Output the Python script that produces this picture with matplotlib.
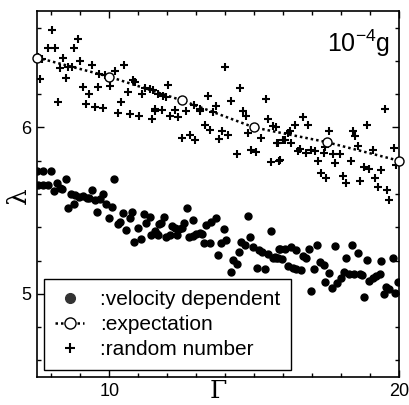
import matplotlib
matplotlib.use("Agg")
import matplotlib.pyplot as plt
from matplotlib.ticker import FixedLocator, MultipleLocator
from matplotlib.lines import Line2D

plt.rcParams['font.family'] = ['Liberation Sans', 'DejaVu Sans']
plt.rcParams['mathtext.fontset'] = 'custom'
plt.rcParams['mathtext.rm'] = 'Liberation Sans'
plt.rcParams['mathtext.it'] = 'Liberation Sans'

# expectation curve
gamma_exp = [7.5, 10.0, 12.5, 15.0, 17.5, 20.0]
lam_exp = [6.42, 6.305, 6.163, 6.0, 5.912, 5.80]

# random-number crosses
gamma_rand = [8.01, 8.9, 7.87, 8.12, 8.79, 7.54, 7.66, 8.4, 9.0, 8.29, 8.58, 8.72, 9.41, 8.49, 7.6,
              9.64, 9.84, 9.98, 10.19, 10.51, 9.1, 9.59, 10.02, 9.29, 10.8, 10.88, 10.63, 11.11,
              11.22, 11.4, 11.51, 8.21, 9.19, 9.5, 9.79, 10.4, 10.3, 10.71, 11.02, 11.48, 11.59, 11.68,
              12.01, 11.86, 11.97, 13.98, 14.5, 13.41, 15.41, 14.19, 11.57, 11.8, 12.28, 12.09, 12.37,
              12.63, 12.92, 13.12, 13.12, 13.67, 13.58, 14.61, 14.7, 15.48, 15.65, 13.29, 13.47, 13.89,
              14.08, 12.49, 12.78, 12.97, 13.78, 14.79, 15.25, 15.8, 14.39, 14.9, 15.05, 15.57, 15.84,
              19.5, 16.68, 16.86, 16.4, 18.9, 15.77, 16.17, 16.22, 17.6, 18.41, 18.47, 15.82, 15.99,
              16.05, 16.28, 16.57, 16.51, 16.8, 16.97, 17.09, 17.43, 17.41, 17.72, 17.95, 18.6, 19.1,
              19.84, 15.88, 17.2, 17.78, 18.33, 18.79, 18.98, 19.39, 19.9, 17.29, 17.49, 18.06, 18.18,
              18.67, 19.16, 19.29, 19.59, 19.67]
lam_rand = [6.585, 6.531, 6.475, 6.48, 6.479, 6.425, 6.41, 6.415, 6.40, 6.355, 6.365, 6.365, 6.375, 6.30, 6.29,
            6.32, 6.315, 6.305, 6.34, 6.375, 6.245, 6.245, 6.25, 6.20, 6.285, 6.275, 6.215, 6.20,
            6.24, 6.23, 6.225, 6.15, 6.138, 6.122, 6.114, 6.15, 6.086, 6.082, 6.066, 6.05, 6.10, 6.20,
            6.255, 6.19, 6.186, 6.361, 6.235, 6.19, 6.17, 6.162, 6.11, 6.106, 6.106, 6.07, 6.062,
            6.096, 6.136, 6.11, 6.096, 6.13, 6.09, 6.096, 6.066, 6.05, 6.01, 6.016, 5.982, 5.976,
            5.956, 5.936, 5.956, 5.926, 5.93, 5.966, 5.936, 5.906, 5.843, 5.866, 5.85, 5.79, 5.80,
            6.11, 6.062, 6.016, 6.016, 6.016, 6.0, 5.966, 5.976, 5.98, 5.98, 5.95, 5.906, 5.922,
            5.926, 5.906, 5.87, 5.856, 5.846, 5.866, 5.856, 5.882, 5.846, 5.843, 5.843, 5.89, 5.862,
            5.876, 5.807, 5.80, 5.786, 5.80, 5.762, 5.75, 5.747, 5.777, 5.726, 5.696, 5.706, 5.666,
            5.677, 5.696, 5.642, 5.623, 5.563]

# velocity-dependent dots
gamma_vel = [7.49, 7.72, 7.98, 7.52, 7.72, 7.87, 8.18, 8.1, 8.29, 8.37, 8.49, 8.67, 8.81, 8.95, 9.1,
             9.21, 9.29, 8.58, 8.79, 9.39, 9.5, 9.67, 9.79, 9.57, 10.17, 9.87, 10.08, 9.98, 10.48,
             10.79, 10.28, 10.36, 10.71, 10.56, 10.99, 10.86, 11.09, 11.2, 11.4, 11.28, 11.45, 11.57,
             11.66, 11.71, 11.68, 11.78, 11.89, 11.97, 12.09, 12.17, 12.28, 12.4, 12.49, 12.35, 12.57,
             12.68, 12.74, 12.89, 13.0, 13.12, 13.2, 12.89, 13.27, 13.47, 13.35, 13.52, 13.67, 13.75,
             13.87, 14.04, 13.96, 14.19, 14.27, 14.39, 14.47, 14.53, 14.67, 14.77, 14.87, 14.96,
             15.16, 15.27, 15.48, 15.65, 15.77, 15.08, 15.36, 15.57, 15.84, 15.71, 15.82, 15.96,
             15.88, 16.05, 16.26, 16.46, 16.17, 16.34, 16.46, 16.6, 16.68, 16.8, 16.88, 17.18, 16.97,
             17.06, 17.26, 17.41, 17.57, 17.45, 17.68, 17.87, 17.98, 17.78, 18.1, 18.26, 18.44,
             18.64, 18.72, 18.18, 18.37, 18.6, 18.79, 18.9, 18.98, 19.1, 19.21, 19.33, 19.39, 19.48,
             19.56, 19.67, 19.79, 19.87, 19.98]
lam_vel = [5.737, 5.741, 5.737, 5.657, 5.657, 5.653, 5.666, 5.621, 5.636, 5.633, 5.693, 5.601, 5.593, 5.581, 5.587,
           5.573, 5.577, 5.513, 5.537, 5.627, 5.561, 5.567, 5.601, 5.493, 5.693, 5.541, 5.521, 5.453, 5.487,
           5.493, 5.417, 5.433, 5.453, 5.381, 5.393, 5.313, 5.327, 5.477, 5.461, 5.427, 5.353, 5.377,
           5.357, 5.421, 5.353, 5.427, 5.461, 5.341, 5.353, 5.407, 5.393, 5.387, 5.397, 5.353, 5.427,
           5.517, 5.341, 5.347, 5.357, 5.367, 5.361, 5.441, 5.307, 5.305, 5.413, 5.433, 5.457, 5.234,
           5.307, 5.321, 5.387, 5.133, 5.201, 5.181, 5.253, 5.313, 5.293, 5.467, 5.341, 5.281,
           5.261, 5.253, 5.237, 5.217, 5.213, 5.157, 5.147, 5.377, 5.267, 5.222, 5.213, 5.208,
           5.268, 5.268, 5.281, 5.261, 5.168, 5.154, 5.148, 5.142, 5.228, 5.214, 5.268, 5.293, 5.014,
           5.148, 5.193, 5.174, 5.128, 5.074, 5.034, 5.068, 5.098, 5.287, 5.133, 5.118, 5.118,
           5.122, 5.114, 5.217, 5.293, 5.247, 4.978, 5.201, 5.078, 5.094, 5.108, 5.118, 5.198, 4.998,
           5.042, 5.028, 5.217, 5.002, 5.074]

x_ticks = [10, 20]
y_ticks = [5, 6]

fig = plt.figure(figsize=(4.09, 4.05), dpi=100)
ax = fig.add_axes([37/409, 1 - 377/405, (399 - 37)/409, (377 - 11)/405])

ax.plot(gamma_vel, lam_vel, linestyle='none', marker='o', ms=5, color='black', mec='black')
ax.plot(gamma_rand, lam_rand, linestyle='none', marker='+', ms=6, mew=1.5, color='black')
ax.plot(gamma_exp, lam_exp, linestyle=(0, (1, 1.2)), lw=1.8, color='black',
        marker='o', ms=6.5, mfc='white', mec='black', mew=1.0, clip_on=False, zorder=5)

ax.set_xlim(7.5, 20)
ax.set_ylim(4.5, 6.7)
ax.xaxis.set_major_locator(FixedLocator(x_ticks))
ax.yaxis.set_major_locator(FixedLocator(y_ticks))
ax.xaxis.set_minor_locator(MultipleLocator(1))
ax.yaxis.set_minor_locator(MultipleLocator(0.2))
ax.tick_params(which='both', direction='in', top=True, right=True, labelsize=13, width=1)
ax.tick_params(which='major', length=5, pad=4)
ax.tick_params(which='minor', length=3)
for s in ax.spines.values():
    s.set_linewidth(1.2)

fig.text(218/409, 1 - 392/405, 'Γ', family=['DejaVu Serif'], fontsize=18,
         ha='center', va='center')
fig.text(18/409, 1 - 196/405, 'λ', family=['DejaVu Serif'], fontsize=19,
         ha='center', va='center', rotation=90)

ax.text(0.975, 0.955, r'10$^{-4}$g', transform=ax.transAxes, ha='right', va='top', fontsize=18)

handles = [
    Line2D([], [], linestyle='none', marker='o', ms=7, color='#333333'),
    Line2D([], [], linestyle=(0, (1, 1.2)), lw=1.8, color='black', marker='o', ms=8,
           mfc='white', mec='black'),
    Line2D([], [], linestyle='none', marker='+', ms=7, mew=1.5, color='black'),
]
labels = [':velocity dependent', ':expectation', ':random number']
leg = ax.legend(handles, labels, loc='lower left', bbox_to_anchor=(0.018, 0.018),
                borderaxespad=0, fontsize=15, numpoints=1, handlelength=1.4,
                handletextpad=0.75, labelspacing=0.28, borderpad=0.55,
                fancybox=False, framealpha=1, edgecolor='black')
leg.get_frame().set_linewidth(1.0)

fig.savefig('out.png', dpi=100)
